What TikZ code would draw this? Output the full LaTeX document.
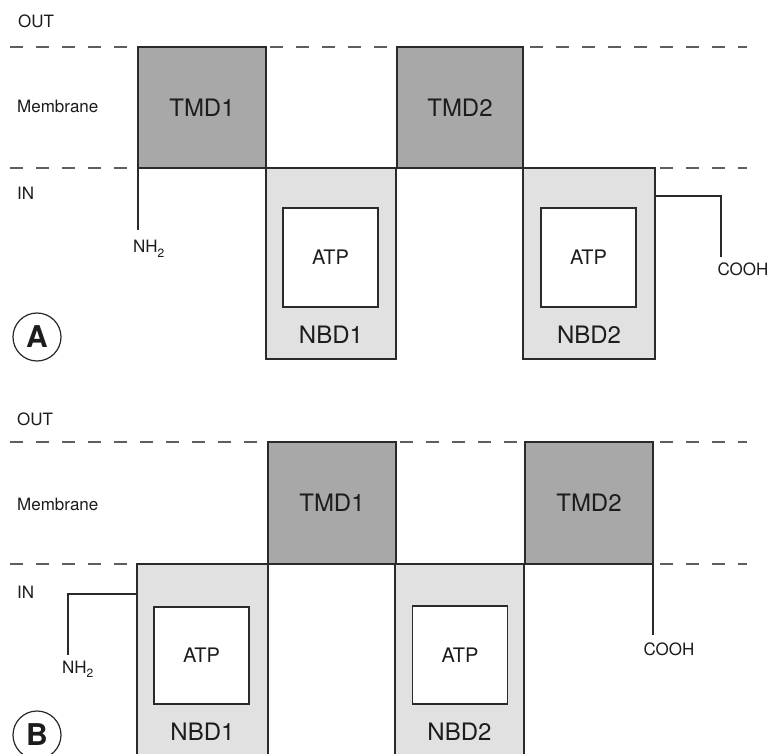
\documentclass[tikz,border=0pt]{standalone}
\usepackage{fontspec}
\setmainfont{TeX Gyre Heros}
\definecolor{tmdfill}{HTML}{A8A8A8}
\definecolor{nbdfill}{HTML}{E1E1E1}
\definecolor{edge}{HTML}{2A2A2A}
\definecolor{dashgray}{HTML}{5E5E5E}
\definecolor{txt}{HTML}{1C1C1C}
\newcommand{\fsz}[1]{\fontsize{#1}{#1}\selectfont}
\tikzset{
  membline/.style={draw=dashgray, line width=1.6pt, dash pattern=on 13pt off 13pt},
  tmdbox/.style={draw=edge, fill=tmdfill, line width=1.5pt, inner sep=0pt, outer sep=0pt, text=txt, font=\fsz{24}},
  nbdbox/.style={draw=edge, fill=nbdfill, line width=1.5pt, inner sep=0pt, outer sep=0pt},
  atpbox/.style={draw=edge, fill=white, line width=1.4pt, inner sep=0pt, outer sep=0pt, minimum width=95pt, text=txt, font=\fsz{20}},
  nbdlabel/.style={text=txt, font=\fsz{24}, inner sep=0pt},
  sidelabel/.style={text=txt, font=\fsz{17}, anchor=base west, inner sep=0pt},
  termlabel/.style={text=txt, font=\fsz{17}, inner sep=0pt},
  conn/.style={draw=edge, line width=1.2pt},
  panel/.style={draw=edge, line width=1.2pt, circle, minimum size=48pt, inner sep=0pt, text=txt, font=\bfseries\fsz{30}}
}
\begin{document}
\begin{tikzpicture}[x=1pt,y=-1pt]
\useasboundingbox (0,0) rectangle (769,754);
\fill[white] (0,0) rectangle (769,754);
\clip (0,0) rectangle (769,754);

% ---------------- Panel A ----------------
\draw[membline] (10,47) -- (747,47);
\draw[membline] (10,168) -- (747,168);

\node[sidelabel] (outA) at (18,28) {OUT};
\node[sidelabel] (memA) at (17,113) {Membrane};
\node[sidelabel] (inA) at (17,200) {IN};

\node[nbdbox, minimum width=130pt, minimum height=191pt] (nbdA1) at (331,263.5) {};
\node[nbdbox, minimum width=132pt, minimum height=191pt] (nbdA2) at (589,263.5) {};
\node[tmdbox, minimum width=128pt, minimum height=121pt] (tmdA1) at (202,107.5) {TMD1};
\node[tmdbox, minimum width=126pt, minimum height=121pt] (tmdA2) at (460,107.5) {TMD2};
\node[atpbox, minimum height=99pt] (atpA1) at (330.5,257.5) {ATP};
\node[atpbox, minimum height=99pt] (atpA2) at (588.5,257.5) {ATP};
\node[nbdlabel] (lblA1) at (331,335) {NBD1};
\node[nbdlabel] (lblA2) at (589,335) {NBD2};

\coordinate (nhAend) at (138,230);
\draw[conn] (tmdA1.south west) -- (nhAend);
\node[termlabel, anchor=base west] (nhA) at (133,253) {NH\raisebox{-0.45ex}{\fsz{12}2}};

\coordinate (cAcorner) at (721,196);
\coordinate (cAend) at (721,257);
\draw[conn] (nbdA2.east |- cAcorner) -- (cAcorner) -- (cAend);
\node[termlabel] (coohA) at (743,269) {COOH};

\node[panel] (circA) at (37,337) {A};

% ---------------- Panel B ----------------
\draw[membline] (10,442) -- (747,442);
\draw[membline] (10,564) -- (747,564);

\node[sidelabel] (outB) at (17,425) {OUT};
\node[sidelabel] (memB) at (17,510) {Membrane};
\node[sidelabel] (inB) at (17,598) {IN};

\node[nbdbox, minimum width=131pt, minimum height=200pt] (nbdB1) at (202.5,664) {};
\node[nbdbox, minimum width=129pt, minimum height=200pt] (nbdB2) at (459.5,664) {};
\node[tmdbox, minimum width=128pt, minimum height=122pt] (tmdB1) at (332,503) {TMD1};
\node[tmdbox, minimum width=128pt, minimum height=122pt] (tmdB2) at (589,503) {TMD2};
\node[atpbox, minimum height=97pt] (atpB1) at (201.5,655.5) {ATP};
\node[atpbox, minimum height=98pt] (atpB2) at (460,655) {ATP};
\node[nbdlabel] (lblB1) at (202.5,732) {NBD1};
\node[nbdlabel] (lblB2) at (459.5,732) {NBD2};

\coordinate (nhBcorner) at (68,594);
\coordinate (nhBend) at (68,655);
\draw[conn] (nbdB1.west |- nhBcorner) -- (nhBcorner) -- (nhBend);
\node[termlabel, anchor=base west] (nhB) at (62,673) {NH\raisebox{-0.45ex}{\fsz{12}2}};

\coordinate (cBend) at (653,635);
\draw[conn] (tmdB2.south east) -- (cBend);
\node[termlabel] (coohB) at (669,649) {COOH};

\node[panel] (circB) at (37,735) {B};
\end{tikzpicture}
\end{document}
